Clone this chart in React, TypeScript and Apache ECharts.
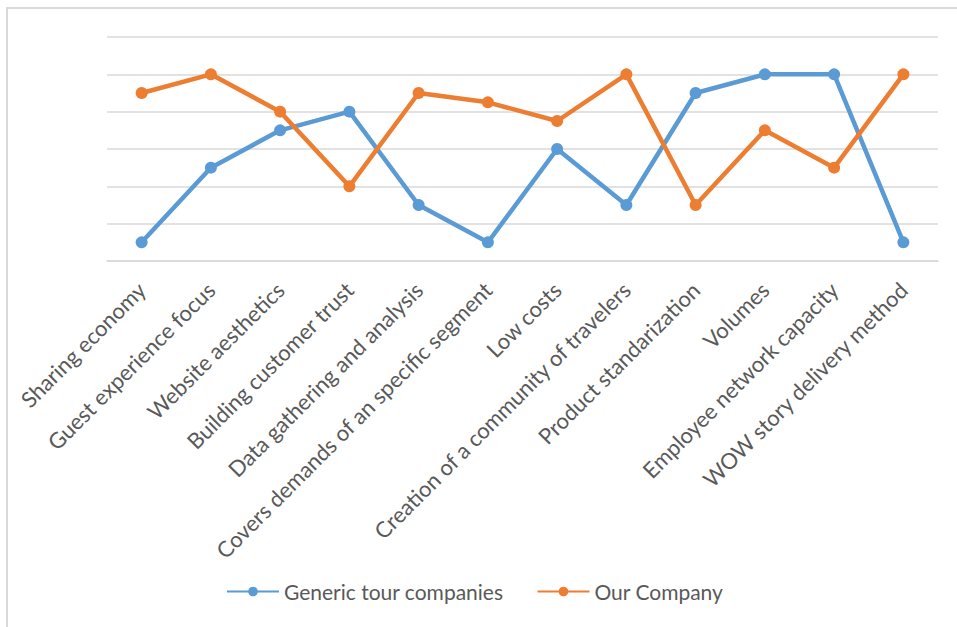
import React, { useEffect, useRef } from "react";
import * as echarts from "echarts";

const categories = [
  "Sharing economy",
  "Guest experience focus",
  "Website aesthetics",
  "Building customer trust",
  "Data gathering and analysis",
  "Covers demands of an specific segment",
  "Low costs",
  "Creation of a community of travelers",
  "Product standarization",
  "Volumes",
  "Employee network capacity",
  "WOW story delivery method",
];

const genericTourCompanies = [0.5, 2.5, 3.5, 4, 1.5, 0.5, 3, 1.5, 4.5, 5, 5, 0.5];
const ourCompany = [4.5, 5, 4, 2, 4.5, 4.25, 3.75, 5, 1.5, 3.5, 2.5, 5];

const seriesNames = ["Generic tour companies", "Our Company"];

const FONT = "Lato, 'Noto Sans', sans-serif";

export default function App() {
  const ref = useRef<HTMLDivElement>(null);
  useEffect(() => {
    if (!ref.current) return;
    const chart = echarts.init(ref.current, undefined, { renderer: "svg" });
    chart.setOption({
      animation: false,
      backgroundColor: "#ffffff",
      textStyle: { fontFamily: FONT },
      graphic: [
        {
          type: "rect",
          shape: { x: 7, y: 8, width: 1000, height: 700 },
          style: { fill: "none", stroke: "#d9d9d9", lineWidth: 2 },
          silent: true,
        },
      ],
      grid: { left: 107, right: 19, top: 37, bottom: 366, containLabel: false },
      legend: {
        top: 576,
        left: 221,
        itemWidth: 52,
        itemHeight: 12,
        itemGap: 33,
        textStyle: { color: "#595959", fontSize: 21, fontFamily: FONT },
        data: seriesNames,
      },
      xAxis: {
        type: "category",
        data: categories,
        boundaryGap: true,
        axisLine: { show: true, lineStyle: { color: "#d9d9d9", width: 1.5 } },
        axisTick: { show: false },
        axisLabel: {
          interval: 0,
          rotate: 45,
          margin: 25,
          color: "#595959",
          fontSize: 22,
          fontFamily: FONT,
        },
      },
      yAxis: {
        type: "value",
        min: 0,
        max: 6,
        interval: 1,
        axisLabel: { show: false },
        axisLine: { show: false },
        axisTick: { show: false },
        splitLine: { lineStyle: { color: "#d9d9d9", width: 1.5 } },
      },
      series: [
        {
          name: seriesNames[0],
          type: "line",
          data: genericTourCompanies,
          color: "#5b9bd5",
          symbol: "circle",
          symbolSize: 12,
          lineStyle: { width: 4.5, color: "#5b9bd5" },
          itemStyle: { color: "#5b9bd5" },
        },
        {
          name: seriesNames[1],
          type: "line",
          data: ourCompany,
          color: "#ed7d31",
          symbol: "circle",
          symbolSize: 12,
          lineStyle: { width: 4.5, color: "#ed7d31" },
          itemStyle: { color: "#ed7d31" },
        },
      ],
    });
    return () => chart.dispose();
  }, []);
  return (
    <div
      ref={ref}
      style={{ position: "fixed", left: 0, top: 0, width: 957, height: 627 }}
    />
  );
}
